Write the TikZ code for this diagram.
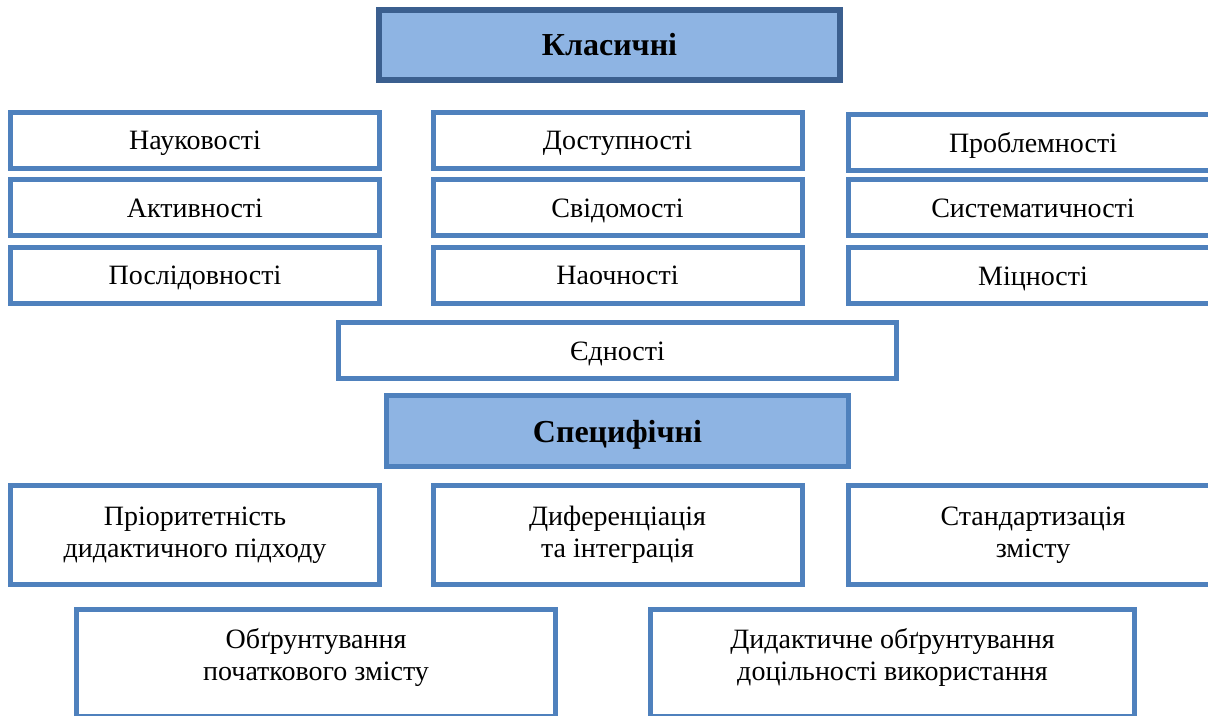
\documentclass[tikz,border=0pt]{standalone}
\usepackage{fontspec}
\setmainfont{Liberation Serif}
\usepackage{xcolor}
\usepackage{tikz}
\definecolor{boxblue}{HTML}{4F81BD}
\definecolor{darkblue}{HTML}{3B5F8F}
\definecolor{headfill}{HTML}{8EB4E3}

\begin{document}
\begin{tikzpicture}[x=0.5pt,y=-0.5pt,line join=miter,
  cell/.style={draw=boxblue,line width=2.5pt,fill=white,minimum width=184.5pt,minimum height=28pt,inner sep=0pt,font=\fontsize{14}{16}\selectfont,align=center},
  oneline/.style={cell,text height=9.5pt,text depth=0pt},
  head/.style={draw=boxblue,line width=2.5pt,fill=headfill,minimum width=231pt,minimum height=35.5pt,inner sep=0pt,text height=11pt,text depth=0pt,font=\fontsize{16}{19}\selectfont\bfseries}]
  \useasboundingbox (0,0) rectangle (1208,716);
  \clip (0,0) rectangle (1208,716);
  \node[head,draw=darkblue,line width=3pt,minimum width=230.5pt,minimum height=35pt] (KL) at (609.5,45) {Класичні};
  \node[oneline] (NA) at (195,140.5) {Науковості};
  \node[oneline] (DO) at (617.5,140.5) {Доступності};
  \node[oneline] (PR) at (1033,143) {Проблемності};
  \node[oneline] (AK) at (195,208) {Активності};
  \node[oneline] (SV) at (617.5,208) {Свідомості};
  \node[oneline] (SY) at (1033,208) {Систематичності};
  \node[oneline] (PO) at (195,275.5) {Послідовності};
  \node[oneline] (NO) at (617.5,275.5) {Наочності};
  \node[oneline] (MI) at (1033,276) {Міцності};
  \node[oneline,minimum width=279pt] (YE) at (617.5,350.5) {Єдності};
  \node[head] (SP) at (617.5,431) {Специфічні};
  \node[cell,minimum height=49.5pt] (S1) at (195,535) {Пріоритетність\\дидактичного підходу};
  \node[cell,minimum height=49.5pt] (S2) at (617.5,535) {Диференціація\\та інтеграція};
  \node[cell,minimum height=49.5pt] (S3) at (1033,535) {Стандартизація\\змісту};
  \node[cell,minimum width=239.5pt,minimum height=53.5pt] (S4) at (316,663) {};
  \node[cell,minimum width=242pt,minimum height=53.5pt] (S5) at (892.5,663) {};
  \node[font=\fontsize{14}{16}\selectfont,align=center] at ([yshift=3pt]S4.center) {Обґрунтування\\початкового змісту};
  \node[font=\fontsize{14}{16}\selectfont,align=center] at ([yshift=3pt]S5.center) {Дидактичне обґрунтування\\доцільності використання};
\end{tikzpicture}
\end{document}
